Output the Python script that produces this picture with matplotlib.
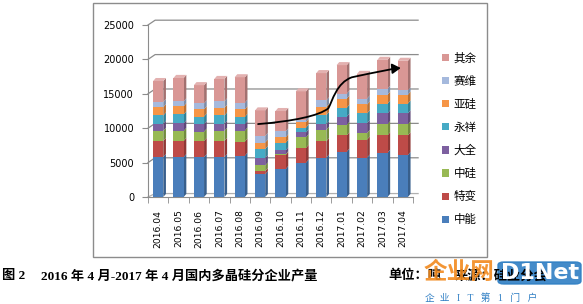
import numpy as np
import matplotlib
matplotlib.use("Agg")
import matplotlib.pyplot as plt
from matplotlib.colors import to_rgb
from matplotlib.patches import Rectangle, FancyArrowPatch, FancyBboxPatch
from matplotlib.path import Path

plt.rcParams['font.family'] = ['DejaVu Sans', 'Noto Sans CJK SC']

# ==========================================
# DATA (吨)
# ==========================================
meses = ['2016.04', '2016.05', '2016.06', '2016.07', '2016.08', '2016.09', '2016.10',
         '2016.11', '2016.12', '2017.01', '2017.02', '2017.03', '2017.04']

zhongneng = [5800, 5800, 5800, 5800, 6000, 3300, 4050, 5000, 5720, 6580, 5720, 6430, 6100]
tebian    = [2350, 2350, 2350, 2350, 2050, 470, 2050, 2140, 2380, 2380, 2630, 2530, 2860]
zhonggui  = [1450, 1450, 1350, 1450, 1600, 810, 100, 1530, 1670, 1530, 950, 1620, 1620]
daquan    = [1050, 1100, 1100, 1050, 950, 1100, 570, 710, 800, 1190, 1430, 1570, 1570]
yongxiang = [1200, 1300, 1100, 1200, 1050, 1290, 1090, 710, 1340, 1290, 1430, 1430, 1430]
yagui     = [1200, 1200, 1050, 1100, 1100, 950, 810, 800, 1190, 1330, 1290, 1290, 1290]
saiwei    = [750, 700, 850, 950, 950, 960, 860, 360, 950, 710, 860, 860, 630]
qiyu      = [3050, 3400, 2650, 3250, 3700, 3700, 2960, 4100, 3950, 4150, 3580, 4200, 4290]

series = [('中能', zhongneng, '#4a7ebb'),
          ('特变', tebian, '#be4b48'),
          ('中硅', zhonggui, '#98b954'),
          ('大全', daquan, '#7d60a0'),
          ('永祥', yongxiang, '#46aac5'),
          ('亚硅', yagui, '#f69546'),
          ('赛维', saiwei, '#a5b9dd'),
          ('其余', qiyu, '#d99795')]

# trend arrow (annotation), data coords
seta_x = [4.9, 6.6, 7.9, 8.35, 8.55, 8.75, 9.5, 10.6, 11.5, 11.9]
seta_y = [10600, 11000, 11800, 12900, 14000, 16600, 17400, 18100, 18650, 18750]


def tom(cor, f):
    r, g, b = to_rgb(cor)
    if f < 1:
        return (r * f, g * f, b * f)
    return (r + (1 - r) * (f - 1), g + (1 - g) * (f - 1), b + (1 - b) * (f - 1))


def main():
    fig = plt.figure(figsize=(5.83, 3.04), dpi=100)
    fig.patch.set_facecolor('white')

    # chart border
    fig.patches.append(Rectangle((93 / 583, 47 / 304), 394 / 583, 254 / 304,
                                 transform=fig.transFigure, fill=False,
                                 edgecolor='#8c8c8c', linewidth=1.0))

    ax = fig.add_axes([148 / 583, 107 / 304, 265 / 583, 172 / 304])

    x = np.arange(len(meses))
    base = np.zeros(len(meses))
    handles = []
    w = 0.5        # front face width
    dx, dy = 0.13, 450   # depth offset
    for nome, vals, cor in series:
        b = ax.bar(x, vals, width=w, bottom=base, color=cor, label=nome,
                   edgecolor='none', zorder=3)
        handles.append(b)
        topo = base + np.array(vals)
        for xi, y0, y1 in zip(x, base, topo):
            xr = xi + w / 2
            ax.fill([xr, xr + dx, xr + dx, xr], [y0, y0 + dy, y1 + dy, y1],
                    color=tom(cor, 0.75), linewidth=0, zorder=2)
        base = topo

    # top caps
    cor_topo = series[-1][2]
    for xi, y1 in zip(x, base):
        xl, xr = xi - w / 2, xi + w / 2
        ax.fill([xl, xl + dx, xr + dx, xr], [y1, y1 + dy, y1 + dy, y1],
                color=tom(cor_topo, 1.25), linewidth=0, zorder=3)

    # arrow
    verts = list(zip(seta_x, seta_y))
    codes = [Path.MOVETO] + [Path.CURVE4] * 9
    p = Path(verts, codes)
    ax.add_patch(FancyArrowPatch(path=p, arrowstyle='-|>,head_length=5,head_width=3',
                                 color='black', linewidth=1.3, zorder=5))

    ax.set_xlim(-0.5, len(meses) - 0.5)
    ax.set_ylim(0, 25000)
    ax.set_yticks(np.arange(0, 25001, 5000))

    # back-wall gridlines (3D look)
    for v in np.arange(5000, 25001, 5000):
        ax.plot([-0.5, -0.15, 12.75], [v, v + 700, v + 700], color='#8c8c8c',
                linewidth=0.9, zorder=1, clip_on=False)
    ax.plot([-0.5, -0.15, 12.75], [0, 500, 500], color='#b0b0b0',
            linewidth=0.9, zorder=1, clip_on=False)

    ax.set_xticks(x)
    ax.set_xticklabels(meses, rotation=90, fontsize=6.6)
    ax.set_xticks(np.arange(-0.5, len(meses), 1), minor=True)
    ax.tick_params(axis='x', which='major', length=0, pad=9)
    ax.tick_params(axis='x', which='minor', length=4, color='#8c8c8c')
    ax.tick_params(axis='y', labelsize=7, length=4, color='#8c8c8c', pad=6)

    for s in ['top', 'right']:
        ax.spines[s].set_visible(False)
    ax.spines['left'].set_color('#8c8c8c')
    ax.spines['bottom'].set_color('#8c8c8c')

    fig.legend(handles[::-1], [s[0] for s in series][::-1],
               loc='upper left', bbox_to_anchor=(432 / 583, 1 - 41 / 304),
               frameon=False, fontsize=8.3, handlelength=0.6, handleheight=0.6,
               handletextpad=0.4, labelspacing=0.88)

    # caption
    cap = ['Liberation Serif', 'Noto Sans CJK SC']
    fig.text(2 / 583, 0.092, '图 2', fontsize=9.5, fontweight='bold', family=cap, va='center')
    fig.text(41 / 583, 0.092, '2016 年 4 月-2017 年 4 月国内多晶硅分企业产量',
             fontsize=9.5, fontweight='bold', family=cap, va='center')
    fig.text(388 / 583, 0.092, '单位：吨', fontsize=9.5, fontweight='bold', family=cap, va='center')
    fig.text(455 / 583, 0.092, '来源：硅业分会', fontsize=9.5, fontweight='bold', family=cap, va='center')

    # watermark
    fig.text(424 / 583, 1 - 273 / 304, '企业网', fontsize=17, fontweight='bold',
             color='#f28a1e', family=cap, va='center', alpha=0.9)
    fig.patches.append(FancyBboxPatch((498 / 583, 1 - 284 / 304), 83 / 583, 22 / 304,
                                      boxstyle='round,pad=0,rounding_size=0.01',
                                      transform=fig.transFigure, color='#2f7fc4', alpha=0.9))
    fig.text(540 / 583, 1 - 273 / 304, 'D1Net', fontsize=16, fontweight='bold',
             color='white', ha='center', va='center')
    fig.text(425 / 583, 1 - 298 / 304, '企  业   I   T   第   1   门   户', fontsize=7,
             color='#2f7fc4', family=cap, va='center')

    plt.savefig('out.png', dpi=100)


if __name__ == "__main__":
    main()
